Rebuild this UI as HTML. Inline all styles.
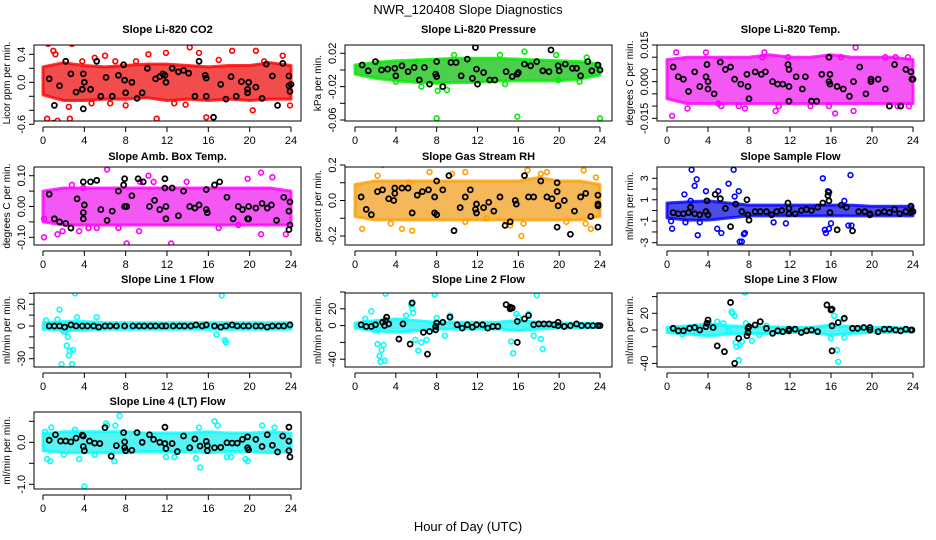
<!DOCTYPE html>
<html><head><meta charset="utf-8"><style>
html,body{margin:0;padding:0;background:#fff}
svg{display:block;font-family:"Liberation Sans",sans-serif}
</style></head><body>
<svg id="c" width="936" height="540" viewBox="0 0 936 540">
<text x="468" y="14" text-anchor="middle" font-size="13">NWR_120408  Slope Diagnostics</text>
<text x="468" y="531" text-anchor="middle" font-size="13">Hour of Day (UTC)</text>
</svg>
<script>
const bandHours=[0,2,4,6,8,10,12,14,16,18,20,22,24];
const xTicks=[0,4,8,12,16,20,24];
// CO2
const co2Hi=[0.22,0.28,0.24,0.22,0.24,0.26,0.26,0.24,0.22,0.24,0.24,0.28,0.24];
const co2Lo=[-0.18,-0.26,-0.26,-0.24,-0.24,-0.22,-0.26,-0.24,-0.26,-0.24,-0.26,-0.24,-0.24];
const co2Out=[[0.5,0.55],[1,0.45],[1.2,0.4],[2.8,0.55],[0.4,-0.52],[1,-0.58],[1.4,-0.55],[1.8,-0.62],[2,-0.65],[2.6,-0.52],[3.8,0.3],[5,0.35],[6,0.38],[7,0.3],[9,0.3],[10.2,0.4],[11.9,0.42],[14.2,0.5],[15.1,0.42],[17,0.32],[18.3,0.45],[20.6,0.45],[21.4,0.3],[23.2,0.38],[11,-0.52],[15.8,-0.5],[6.5,-0.3],[8,-0.33],[12.7,-0.3],[13.8,-0.32],[20.3,-0.4],[23.9,-0.33],[4.7,-0.3],[2.5,-0.35]];
const co2Black=[[0.6,0.05],[1.1,-0.33],[1.6,-0.05],[2.2,0.3],[2.7,0.12],[3.2,-0.14],[3.8,-0.1],[3.9,0.12],[4,0],[3.9,-0.38],[4.6,-0.1],[5.2,0.3],[5.6,-0.2],[6.1,0.07],[6.7,-0.2],[7.3,0.1],[7.8,0.25],[7.9,0.03],[8,-0.15],[8.6,0],[9.1,-0.23],[9.6,-0.15],[10.1,0.2],[10.9,0.05],[11.3,0.08],[11.6,0.12],[11.8,0.1],[11.9,0],[12.5,0.2],[13.1,0.15],[13.6,0.17],[14.1,0.13],[14.7,-0.2],[15.1,0.3],[15.7,0.1],[15.8,0.06],[15.8,-0.2],[16.5,-0.5],[17.2,-0.03],[17.7,-0.24],[18.2,0.08],[18.7,-0.2],[19.2,0.01],[19.8,-0.1],[19.8,-0.15],[19.9,0],[20.6,-0.07],[21.2,-0.23],[21.6,0.26],[22.2,0.09],[22.7,-0.33],[23.2,0.27],[23.8,0.09],[23.8,-0.05],[23.9,-0.13],[24,-0.03]];
const co2YTicks=[-0.6,-0.4,-0.2,0,0.2,0.4];
const co2YLabels=["-0.6","","","0.0","","0.4"];
// Pressure
const presHi=[0.006,0.009,0.011,0.012,0.013,0.014,0.014,0.014,0.013,0.012,0.011,0.01,0.007];
const presLo=[-0.005,-0.01,-0.013,-0.015,-0.016,-0.015,-0.015,-0.013,-0.013,-0.013,-0.013,-0.011,-0.006];
const presOut=[[8,-0.058],[15.9,-0.056],[24,-0.058],[4,-0.014],[6.5,-0.02],[8.1,-0.025],[9,-0.024],[14.7,-0.017],[22,-0.014],[19.9,-0.012],[16.6,0.022],[19.7,0.018],[9.7,0.018],[14.2,0.018],[22.7,0.015],[6,0.01],[2.3,0.008]];
const presBlack=[[0.7,0.006],[1.3,-0.001],[2,0.01],[2.6,0],[3.2,0.001],[3.9,0.002],[4,-0.007],[4.6,0.005],[5.2,-0.002],[5.8,0.003],[6.3,-0.012],[6.8,0.003],[7.3,-0.017],[7.9,-0.005],[8,0.01],[8,-0.008],[8.6,-0.02],[9.4,0.009],[9.9,0.009],[10.4,-0.007],[11,0.013],[11.5,-0.01],[11.8,0.027],[11.9,0.001],[12,-0.017],[12.6,-0.003],[13.2,-0.012],[13.7,-0.012],[14.8,-0.002],[15.4,-0.008],[15.9,-0.005],[16,-0.003],[16.6,0.007],[17.2,0.005],[17.8,0.01],[18.4,-0.001],[19,-0.002],[19.2,0.024],[19.9,0.005],[20,-0.001],[20.6,0.007],[21.3,0.002],[21.7,0.002],[22.1,-0.007],[22.8,0.01],[23.2,-0.001],[23.8,0.006],[24,0]];
const presYTicks=[-0.06,-0.04,-0.02,0,0.02];
const presYLabels=["-0.06","","-0.02","","0.02"];
// Li-820 temp
const tempHi=[0.009,0.01,0.01,0.01,0.01,0.011,0.01,0.01,0.011,0.01,0.01,0.01,0.009];
const tempLo=[-0.007,-0.009,-0.009,-0.009,-0.009,-0.009,-0.009,-0.009,-0.009,-0.009,-0.009,-0.009,-0.009];
const tempOut=[[0.5,-0.014],[0.9,0.012],[2,-0.011],[3.8,0.012],[5.3,-0.01],[7,-0.01],[7.6,-0.011],[9.3,0.01],[9.5,0.012],[10.6,-0.012],[11.8,0.01],[14,-0.01],[15.8,-0.01],[16.4,-0.013],[17,0.01],[18.4,0.014],[18.2,-0.012],[21.3,0.01],[22.3,0.01],[23.5,0.01],[22.5,-0.01],[23.6,-0.01],[5,-0.009],[10.9,-0.01]];
const tempBlack=[[0.6,0.006],[1.1,0.002],[1.6,0.001],[2.1,-0.004],[2.7,0.004],[3.2,-0.002],[3.8,0.002],[3.9,0.007],[4,0],[4,-0.003],[4.6,-0.005],[5.2,0.008],[5.7,0.005],[6.2,0.006],[6.6,0.001],[7.2,-0.001],[7.8,0.003],[7.9,-0.002],[8,-0.007],[8.6,0.004],[9.2,0.003],[9.6,0.004],[10.3,0],[10.8,-0.001],[11.3,-0.001],[11.8,0.007],[11.9,0.005],[11.9,-0.008],[11.9,-0.002],[12.6,0.002],[13.2,-0.003],[13.5,0.002],[14.1,-0.008],[14.6,-0.008],[15.1,0.003],[15.8,0.01],[15.8,0],[15.9,-0.001],[15.9,0.003],[16.6,-0.002],[17.2,-0.003],[17.8,-0.006],[18.2,0],[18.8,0.006],[19.4,-0.005],[19.9,0],[19.9,0.001],[20.6,0.001],[21.3,-0.003],[21.7,-0.01],[22.2,0.007],[22.8,-0.01],[23.3,0.005],[23.8,0.004],[23.9,0.001],[24,0.001]];
const tempYTicks=[-0.015,-0.01,-0.005,0,0.005,0.01,0.015];
const tempYLabels=["-0.015","","","0.000","","","0.015"];
// Amb box temp
const ambHi=[0.05,0.06,0.06,0.06,0.06,0.06,0.06,0.06,0.06,0.06,0.06,0.06,0.05];
const ambLo=[-0.05,-0.06,-0.06,-0.06,-0.06,-0.06,-0.06,-0.06,-0.06,-0.06,-0.06,-0.06,-0.06];
const ambOut=[[0.1,-0.1],[0.1,-0.04],[6.2,0.12],[8.1,-0.12],[12.4,-0.12],[10.2,0.1],[21.1,0.11],[19.8,0.09],[21.1,-0.09],[22.2,0.095],[1.4,-0.09],[1.9,-0.08],[3.5,-0.08],[4.4,-0.07],[5.2,-0.07],[7.3,-0.07],[9.3,-0.08],[17,-0.07],[18.9,-0.06],[23.5,-0.09],[9.4,0.08],[10.7,0.08],[13.9,0.08],[2.8,0.07],[3.9,0.06]];
const ambBlack=[[0.6,0.04],[1.1,-0.04],[1.6,-0.05],[2.2,-0.055],[2.7,-0.07],[3.3,0.025],[3.9,0.08],[3.9,-0.02],[4,0.005],[3.9,-0.04],[4.6,0.08],[5.2,0.085],[5.6,-0.01],[6.2,-0.045],[6.7,-0.015],[7.3,0.05],[7.8,0.07],[7.9,0.09],[7.9,0],[8.1,0],[8.6,0.035],[9.2,0.09],[9.7,0.08],[10.3,0],[10.8,0.02],[11.3,-0.01],[11.8,0.09],[11.8,0.06],[11.9,0],[11.9,-0.04],[12.5,0.06],[13.1,-0.03],[13.6,0.05],[14.2,0],[14.7,-0.005],[15.1,0.005],[15.8,0.055],[15.8,-0.01],[15.9,-0.02],[16.6,0.07],[17.1,0.08],[17.8,0.03],[18.4,-0.04],[18.9,0],[19.3,-0.01],[19.9,0],[19.9,-0.04],[19.8,-0.04],[20.6,-0.005],[21.2,0.01],[21.7,-0.005],[22.1,0.005],[22.6,-0.045],[23.3,0.03],[23.8,-0.015],[23.9,0.015],[23.9,-0.06],[23.8,-0.075]];
const ambYTicks=[-0.1,-0.05,0,0.05,0.1];
const ambYLabels=["-0.10","","0.00","","0.10"];
// Gas stream RH
const rhHi=[0.09,0.11,0.11,0.11,0.11,0.11,0.11,0.11,0.11,0.13,0.11,0.11,0.09];
const rhLo=[-0.09,-0.11,-0.11,-0.11,-0.11,-0.11,-0.11,-0.11,-0.11,-0.11,-0.11,-0.11,-0.09];
const rhOut=[[0.7,-0.16],[1.6,-0.27],[2.7,0.2],[2.2,0.14],[3.5,-0.13],[4.6,-0.16],[5.6,-0.17],[5.3,0.1],[7.3,0.16],[9.5,0.15],[10.8,0.16],[10.8,-0.12],[12.9,-0.1],[14.8,-0.12],[15.2,-0.14],[16.3,-0.2],[16.5,-0.13],[16.9,0.17],[18.2,0.15],[18.8,0.16],[22.4,0.17],[22.6,-0.13],[23.1,-0.16],[23.6,0.13],[20.7,-0.12]];
const rhBlack=[[0.6,0.02],[1.1,-0.05],[1.6,-0.08],[2.2,0.05],[2.7,0.06],[3.3,0.01],[3.8,0],[3.9,0.04],[3.9,0.07],[4.6,0.07],[5.2,0.07],[5.6,-0.07],[6.1,0.03],[6.6,0.05],[7.2,0.06],[7.8,0.02],[7.8,-0.07],[8,-0.08],[8,0.11],[8.6,0.06],[9.2,0.14],[9.7,-0.17],[10.3,-0.04],[10.8,0.02],[11.3,0.06],[11.8,-0.05],[11.9,-0.07],[11.9,-0.02],[12.6,-0.04],[13.1,-0.01],[13.6,-0.06],[14.2,0.02],[14.7,-0.14],[15.2,-0.12],[15.7,0],[15.8,-0.02],[16.6,0.14],[17,0.02],[17.5,0.02],[18.2,0.11],[18.8,0.02],[19.3,0.01],[19.8,0.1],[19.8,0.05],[19.9,-0.03],[19.8,-0.15],[20.5,0],[21.1,-0.19],[21.5,-0.06],[22.1,0.02],[22.6,0.04],[23.1,-0.09],[23.8,-0.02],[23.8,-0.03],[23.8,0.03],[23.8,-0.15]];
const rhYTicks=[-0.2,-0.1,0,0.1,0.2];
const rhYLabels=["-0.2","","0.0","","0.2"];
// Sample flow
const sfHi=[0.7,0.8,0.9,0.7,0.5,0.5,0.5,0.5,0.5,0.5,0.4,0.4,0.4];
const sfLo=[-0.7,-0.9,-0.9,-0.7,-0.5,-0.5,-0.5,-0.5,-0.5,-0.5,-0.5,-0.5,-0.5];
const sfOut=[[0.4,-1],[0.5,-1.7],[1.7,1.5],[1.8,-1.1],[2.3,0.9],[2.4,3.8],[2.7,2.3],[2.9,2.9],[3,-2.3],[3.2,-1.1],[3.8,1.8],[4.9,-1.7],[5,1.8],[5.3,-2.1],[6,2.5],[6.5,3.8],[6.6,1.3],[7,1.8],[7.3,-2.9],[7.5,-2.2],[7.6,-2.1],[7.1,-2.9],[10.4,-1.1],[11.6,-1.2],[15.2,3],[15.4,-1.8],[15.5,-2.1],[15.7,1.8],[15.8,-1.7],[16,-1.2],[17.3,0.9],[17.7,-1.4],[17.9,3.3],[18,-1.4]];
const sfBlack=[[0.6,-0.2],[1.1,-0.3],[1.6,-0.3],[2.1,-0.2],[2.3,0.3],[2.7,-0.3],[3.2,-0.4],[3.8,-0.1],[3.9,0.9],[4,-0.4],[4.7,1.5],[5.2,1.1],[5.7,0.2],[6.2,-1.5],[6.7,0.6],[7.3,-0.1],[7.8,1],[7.9,-0.4],[8,-0.9],[8.6,-0.1],[9.1,-0.1],[9.7,-0.1],[10.2,-0.4],[10.7,-0.1],[11.2,0],[11.8,0.7],[11.9,0.2],[11.9,-0.3],[12.5,-0.3],[13.1,0],[13.6,0.1],[14.1,0],[14.7,0.3],[15.2,0.7],[15.7,1.4],[15.8,1.7],[15.8,0.9],[15.9,-0.2],[16.6,-1.8],[17,0.5],[17.5,0.3],[18.1,-1.9],[18.7,-0.1],[19.3,-0.1],[19.8,-0.3],[19.8,-0.4],[20.6,-0.2],[21.2,-0.1],[21.7,-0.2],[22.2,0.1],[22.7,-0.3],[23.3,-0.1],[23.8,0.4],[23.8,-0.2],[24,-0.1]];
const sfYTicks=[-3,-2,-1,0,1,2,3];
const sfYLabels=["-3","","-1","","1","","3"];
// Line 1
const l1Hi=[3,4,4,3,3,3,3,3,3,3,3,3,3];
const l1Lo=[-3,-4,-4,-3,-3,-3,-3,-3,-3,-3,-3,-3,-3];
const l1Out=[[1.6,15],[1.8,-35],[2.2,-5],[2.3,-18],[2.4,-10],[2.5,-27],[2.6,-23],[2.9,-22],[2.8,-35],[3.1,30],[3.3,8],[5.2,8],[16.8,-8],[17.3,28],[17.6,-13],[17.7,-15],[2,-5],[0.3,5],[1.4,6]];
const l1Black=[[0.6,0],[1.1,0],[1.6,0],[2.1,-1],[2.7,1],[3.2,0],[3.8,0],[4.3,0],[4.9,0],[5.4,-1],[6,0],[6.5,0],[7.1,0],[7.9,0],[8.7,0],[9.3,0],[9.8,0],[10.4,0],[10.9,0],[11.5,0],[11.9,0],[12.6,0],[13.2,0],[13.7,0],[14.3,0],[14.8,1],[15.4,0],[15.8,1],[16.6,0],[17.2,-1],[17.7,0],[18.3,1],[18.8,0],[19.4,0],[19.9,0],[20.6,0],[21.1,0],[21.7,-1],[22.2,0],[22.8,0],[23.3,0],[23.9,1]];
const l1YTicks=[-30,-20,-10,0,10,20,30];
const l1YLabels=["-30","","","0","","20",""];
// Line 2
const l2Hi=[3,6,8,6,4,4,4,4,6,4,3,3,2];
const l2Lo=[-3,-6,-8,-6,-4,-4,-4,-4,-6,-4,-3,-3,-2];
const l2Out=[[1.6,17],[1.9,-5],[2.2,-22],[2.3,-5],[2.4,-36],[2.5,-43],[2.6,-29],[2.8,-23],[2.9,-42],[3,38],[3.1,10],[5,12],[5.5,25],[5.6,20],[5.7,15],[5.9,-17],[6.2,-30],[6.5,-20],[7,-17],[7.8,37],[8,9],[8.8,-12],[9.3,12],[15.3,-19],[15.5,-33],[15.8,14],[16,10],[17,14],[17.5,-12],[17.8,36],[18.2,-16],[18.4,-28],[1,8]];
const l2Black=[[0.6,1],[1.1,-1],[1.6,-1],[2,1],[2.7,4],[2.9,0],[3,6],[3.1,10],[3.3,2],[4.3,-16],[4.7,2],[5.4,-22],[5.6,27],[6.7,-8],[7.1,-34],[7.3,-7],[7.9,-5],[7.9,-1],[8,3],[8.6,4],[9.3,10],[10,1],[10.5,-3],[11,1],[11.5,-2],[11.9,1],[12.5,1],[13,-3],[13.5,-1],[14,-1],[14.8,25],[15.2,22],[15.2,20],[15.4,21],[15.9,5],[15.9,-20],[16.6,8],[17,12],[17.5,1],[18,2],[18.5,2],[19,2],[19.5,1],[19.9,4],[19.9,0],[20.5,-1],[21.1,0],[21.7,2],[22.2,0],[22.8,0],[23.3,0],[23.8,0],[24,0]];
const l2YTicks=[-40,-20,0,20,40];
const l2YLabels=["-40","","0","20",""];
// Line 3
const l3Hi=[3,5,7,5,4,4,3,3,6,4,3,3,2];
const l3Lo=[-3,-5,-7,-5,-4,-4,-3,-3,-6,-4,-3,-3,-2];
const l3Out=[[1.5,-5],[2.9,-3],[4.1,8],[4.9,10],[5.5,8],[6,-1],[6.3,22],[6.4,20],[6.6,17],[6.7,-15],[6.8,-20],[7.1,-18],[7.3,-14],[7,-36],[7.6,45],[7.7,8],[8.3,-13],[9.7,5],[16,-10],[16.3,17],[16.6,-24],[16.7,-38],[17.2,13],[17.3,-9],[18.7,2],[9,-6]];
const l3Black=[[0.6,2],[1.1,-1],[1.6,-1],[2.2,2],[2.7,3],[3.2,0],[3.8,4],[3.9,8],[4,12],[4.5,3],[4.9,-19],[5.6,-26],[6.2,33],[6.6,-40],[7,-10],[7.8,-7],[7.9,-3],[7.9,2],[8,4],[8.6,6],[9.1,10],[9.7,2],[10.3,-4],[10.8,-1],[11.3,-2],[11.9,1],[11.9,-1],[12.5,1],[13.1,-3],[13.6,-1],[14.1,0],[14.7,-2],[15.6,30],[16.1,25],[16,24],[16.1,5],[16.1,-25],[16.7,9],[17.3,14],[18.1,2],[18.6,2],[19.2,3],[19.8,3],[19.8,0],[20.6,-2],[21.2,1],[21.7,1],[22.3,0],[22.8,-1],[23.3,1],[23.8,0],[23.9,0]];
const l3YTicks=[-40,-20,0,20,40];
const l3YLabels=["-40","","0","20",""];
// Line 4
const l4Hi=[0.2,0.25,0.25,0.25,0.25,0.22,0.22,0.22,0.25,0.22,0.22,0.25,0.22];
const l4Lo=[-0.2,-0.25,-0.25,-0.25,-0.25,-0.22,-0.22,-0.22,-0.25,-0.22,-0.22,-0.25,-0.22];
const l4Out=[[0.2,0.25],[0.4,-0.4],[0.7,-0.45],[0.8,0.35],[3.5,-0.4],[4,-1.05],[5,-0.3],[6.1,0.45],[6.2,0.4],[6.9,-0.45],[7,0.4],[7.4,0.63],[11.9,-0.35],[12.7,-0.35],[14.8,-0.38],[15.2,-0.6],[15.1,0.35],[16.6,0.5],[16.9,0.4],[18.2,-0.35],[19.6,-0.4],[19.8,-0.45],[21.2,0.4],[22.4,0.35],[17.8,-0.35],[2,-0.3],[3.1,0.3]];
const l4Black=[[0.6,0.05],[1.2,0.18],[1.7,0.03],[2.2,0.03],[2.7,0.01],[3.2,0.1],[3.8,0.17],[3.9,0.15],[3.9,-0.1],[4,-0.2],[4.5,0.03],[5,-0.02],[5.5,-0.03],[6,0.35],[6.6,-0.33],[7.1,-0.08],[7.8,0.23],[7.9,0.01],[7.9,-0.13],[8,-0.2],[8.6,-0.19],[9.1,0.23],[9.6,0],[10.3,0.18],[10.7,0.07],[11.3,0],[11.8,0.36],[11.8,-0.03],[11.9,-0.15],[12.5,-0.03],[13,-0.22],[13.6,0.15],[14.2,-0.13],[14.7,0.08],[15.2,-0.09],[15.8,0.02],[15.9,-0.08],[15.9,-0.2],[16.6,-0.13],[17.2,-0.12],[17.8,-0.01],[18.3,-0.02],[18.8,-0.02],[19.3,0.07],[19.8,0.13],[19.8,-0.13],[19.9,-0.18],[20.6,0.07],[21.2,-0.1],[21.7,0.18],[22.2,-0.07],[22.7,-0.23],[23.2,0.15],[23.8,0.36],[23.8,0.03],[23.8,-0.2],[23.9,-0.35]];
const l4YTicks=[-1,-0.5,0,0.5];
const l4YLabels=["-1.0","","0.0",""];

const NS="http://www.w3.org/2000/svg";
const svg=document.getElementById('c');
function mk(tag,attrs,parent){const e=document.createElementNS(NS,tag);for(const k in attrs)e.setAttribute(k,attrs[k]);(parent||svg).appendChild(e);return e;}
const cols=[{bl:34,br:301,x0:43,x24:291},{bl:345,br:612,x0:355,x24:600},{bl:657,br:924,x0:667,x24:913}];
const rows=[{bt:45,bb:121,title:33},{bt:167,bb:245,title:160},{bt:293,bb:367,title:283},{bt:412,bb:489,title:405}];

function panel(name,title,ytitle,c,r,yA,vA,yB,vB,hi,lo,out,black,yticks,ylabels,color,bandColor){
  const C=cols[c],R=rows[r];
  const g=mk('g',{});
  
  
  const xs=h=>C.x0+(C.x24-C.x0)*h/24;
  const ys=v=>yA+(yB-yA)*(v-vA)/(vB-vA);
  const cp='clip-'+name;
  const cl=mk('clipPath',{id:cp},g);mk('rect',{x:C.bl,y:R.bt,width:C.br-C.bl,height:R.bb-R.bt},cl);
  const pg=mk('g',{'clip-path':'url(#'+cp+')'},g);
  let pts=bandHours.map((h,i)=>xs(h)+','+ys(hi[i]));
  pts=pts.concat(bandHours.slice().reverse().map((h,i)=>xs(h)+','+ys(lo[lo.length-1-i])));
  const band=mk('polygon',{points:pts.join(' '),fill:bandColor,stroke:color,'stroke-width':3,'stroke-linejoin':'round','fill-opacity':0.75,'stroke-opacity':0.8},pg);
  
  
  out.forEach(p=>{const e=mk('circle',{cx:xs(p[0]),cy:ys(p[1]),r:2.4,fill:'none',stroke:color,'stroke-width':1.6},pg);
    
    });
  black.forEach(p=>{const e=mk('circle',{cx:xs(p[0]),cy:ys(p[1]),r:2.5,fill:'none',stroke:'#000','stroke-width':1.8},pg);
    
    });
  const box=mk('rect',{x:C.bl,y:R.bt,width:C.br-C.bl,height:R.bb-R.bt,fill:'none',stroke:'#000','stroke-width':1},g);
  
  
  const t=mk('text',{x:(C.bl+C.br)/2,y:R.title,'text-anchor':'middle','font-size':11,'font-weight':'bold'},g);t.textContent=title;
  
  
  const ay=R.bb+6;
  mk('line',{x1:xs(0),x2:xs(24),y1:ay,y2:ay,stroke:'#000'},g);
  xTicks.forEach(h=>{mk('line',{x1:xs(h),x2:xs(h),y1:ay,y2:ay+5,stroke:'#000'},g);
    const tx=mk('text',{x:xs(h),y:ay+17,'text-anchor':'middle','font-size':11},g);tx.textContent=h;
    
    });
  const ax=C.bl;
  mk('line',{x1:ax,x2:ax,y1:ys(yticks[0]),y2:ys(yticks[yticks.length-1]),stroke:'#000'},g);
  yticks.forEach((v,i)=>{const y=ys(v);mk('line',{x1:ax-5,x2:ax,y1:y,y2:y,stroke:'#000'},g);
    if(ylabels[i]){const tx=mk('text',{x:0,y:0,'text-anchor':'middle','font-size':11,transform:`translate(${ax-9},${y}) rotate(-90)`},g);tx.textContent=ylabels[i];
    
    }});
  const yt=mk('text',{x:0,y:0,'text-anchor':'middle','font-size':10,transform:`translate(${C.bl-24},${(R.bt+R.bb)/2}) rotate(-90)`},g);yt.textContent=ytitle;
  
  
}
panel('panel-co2','Slope Li-820 CO2','Licor ppm per min.',0,0,82.3,0,54.3,0.4,co2Hi,co2Lo,co2Out,co2Black,co2YTicks,co2YLabels,'#ff0000','#ee1010');
panel('panel-pressure','Slope Li-820 Pressure','kPa per min.',1,0,53.3,0.02,120,-0.06,presHi,presLo,presOut,presBlack,presYTicks,presYLabels,'#00ee00','#10c010');
panel('panel-li820-temp','Slope Li-820 Temp.','degrees C per min.',2,0,45,0.015,118.3,-0.015,tempHi,tempLo,tempOut,tempBlack,tempYTicks,tempYLabels,'#ff00ff','#f020f0');
panel('panel-amb-temp','Slope Amb. Box Temp.','degrees C per min.',0,1,175.7,0.1,237.3,-0.1,ambHi,ambLo,ambOut,ambBlack,ambYTicks,ambYLabels,'#ff00ff','#f020f0');
panel('panel-rh','Slope Gas Stream RH','percent per min.',1,1,165,0.2,236,-0.2,rhHi,rhLo,rhOut,rhBlack,rhYTicks,rhYLabels,'#ffa000','#f0a020');
panel('panel-sample-flow','Slope Sample Flow','ml/min per min.',2,1,178.3,3,242.7,-3,sfHi,sfLo,sfOut,sfBlack,sfYTicks,sfYLabels,'#0000ff','#1010e0');
panel('panel-line1','Slope Line 1 Flow','ml/min per min.',0,2,326,0,304.2,20,l1Hi,l1Lo,l1Out,l1Black,l1YTicks,l1YLabels,'#00ffff','#20eeee');
panel('panel-line2','Slope Line 2 Flow','ml/min per min.',1,2,325.6,0,308.8,20,l2Hi,l2Lo,l2Out,l2Black,l2YTicks,l2YLabels,'#00ffff','#20eeee');
panel('panel-line3','Slope Line 3 Flow','ml/min per min.',2,2,330,0,313.3,20,l3Hi,l3Lo,l3Out,l3Black,l3YTicks,l3YLabels,'#00ffff','#20eeee');
panel('panel-line4','Slope Line 4 (LT) Flow','ml/min per min.',0,3,442.3,0,484.3,-1,l4Hi,l4Lo,l4Out,l4Black,l4YTicks,l4YLabels,'#00ffff','#20eeee');
</script>
</body></html>
